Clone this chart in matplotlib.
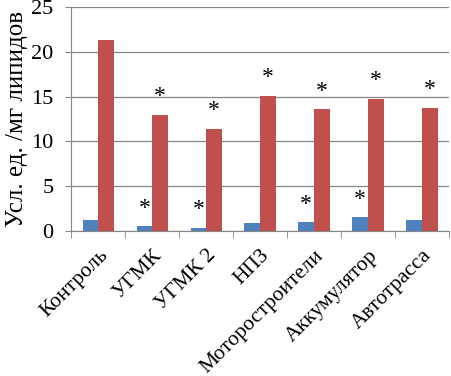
import numpy as np
import matplotlib.pyplot as plt

categories = ["Контроль", "УГМК", "УГМК 2", "НПЗ", "Моторостроители", "Аккумулятор", "Автотрасса"]
blue_vals = [1.2, 0.55, 0.35, 0.9, 1.0, 1.5, 1.25]
red_vals = [21.3, 13.0, 11.4, 15.1, 13.6, 14.75, 13.75]
blue_star = [False, True, True, False, True, True, False]
red_star = [False, True, True, True, True, True, True]

plt.rcParams['font.family'] = ['Liberation Serif', 'DejaVu Serif']

fig = plt.figure(figsize=(4.52, 3.76), dpi=100)
ax = fig.add_axes([0.158, 0.386, 0.835, 0.595])

x = np.arange(len(categories))
w = 0.29
ax.bar(x - w / 2, blue_vals, w, color="#4F81BD", zorder=3)
ax.bar(x + w / 2, red_vals, w, color="#C0504D", zorder=3)

for i in range(len(categories)):
    if blue_star[i]:
        ax.text(x[i] - w / 2, blue_vals[i] + 2.0, "*", ha="center", va="center", fontsize=17)
    if red_star[i]:
        ax.text(x[i] + w / 2, red_vals[i] + 2.0, "*", ha="center", va="center", fontsize=17)

ax.set_xlim(-0.5, len(categories) - 0.5)
ax.set_ylim(0, 25)
ax.set_yticks([0, 5, 10, 15, 20, 25])
ax.yaxis.grid(True, color="#868686", linewidth=0.9, zorder=0)
ax.tick_params(axis="y", labelsize=16, length=4, pad=9, color="#868686")

ax.set_xticks(x)
ax.set_xticklabels(categories, rotation=45, ha="right", rotation_mode="anchor", fontsize=15.5)
ax.tick_params(axis="x", which="major", length=0, pad=11)
ax.set_xticks(np.arange(len(categories) + 1) - 0.5, minor=True)
ax.tick_params(axis="x", which="minor", length=5, color="#868686")

for s in ["top", "right"]:
    ax.spines[s].set_visible(False)
for s in ["left", "bottom"]:
    ax.spines[s].set_color("#868686")

ax.set_ylabel("Усл. ед. /мг липидов", fontsize=18, labelpad=2)

fig.savefig("out.png", dpi=100)
